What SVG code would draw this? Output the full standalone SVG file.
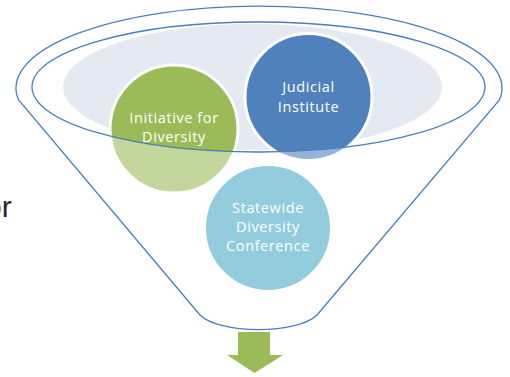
<svg xmlns="http://www.w3.org/2000/svg" width="510" height="377" viewBox="0 0 510 377">
  <style>
    .rim { fill: none; stroke: #4A7EBB; stroke-width: 1.3; }
    .ball { stroke: #FFFFFF; stroke-width: 3; }
    .label { font-family: "Open Sans", "Noto Sans", sans-serif; font-size: 14.5px; fill: #FFFFFF; text-anchor: middle; letter-spacing: 0.6px; }
  </style>

  <!-- funnel mouth backdrop -->
  <ellipse id="mouth-fill" cx="252.5" cy="87" rx="189.5" ry="63" fill="#E4E9F2"/>

  <g id="initiative-for-diversity">
    <circle class="ball" cx="174" cy="129" r="64" fill="#9BBB59"/>
    <text class="label" x="174" y="123.3">Initiative for</text>
    <text class="label" x="174" y="141.7">Diversity</text>
  </g>

  <g id="judicial-institute">
    <circle class="ball" cx="308.5" cy="97" r="63.5" fill="#4F81BD"/>
    <text class="label" x="308.5" y="92.3">Judicial</text>
    <text class="label" x="308.5" y="111.7">Institute</text>
  </g>

  <g id="statewide-diversity-conference">
    <circle class="ball" cx="268" cy="228" r="63.5" fill="#4BACC6"/>
    <text class="label" x="268" y="212.7">Statewide</text>
    <text class="label" x="268" y="231.7">Diversity</text>
    <text class="label" x="268" y="250.7">Conference</text>
  </g>

  <!-- translucent funnel body below the inner rim -->
  <path id="funnel-body" fill="#FFFFFF" fill-opacity="0.4" fill-rule="evenodd"
        d="M 18.6 100 A 243 82 0 1 1 499.4 100 L 317 315 A 62 22 0 0 1 200 315 Z
           M 32 87 A 226.5 65 0 1 0 485 87 A 226.5 65 0 1 0 32 87 Z"/>

  <g id="funnel-outline">
    <ellipse class="rim" cx="258.5" cy="87" rx="226.5" ry="65"/>
    <path class="rim" d="M 18.6 100 A 243 82 0 1 1 499.4 100 L 317 315 A 62 22 0 0 1 200 315 Z"/>
  </g>

  <g id="connectors">
    <path id="output-arrow" fill="#9BBB59" d="M 238 332 L 270 332 L 270 355 L 283 355 L 254.5 373 L 227 355 L 238 355 Z"/>
  </g>

  <text x="-15" y="217" font-family="Liberation Sans, Arial, sans-serif" font-size="30" fill="#262626">or</text>
</svg>
